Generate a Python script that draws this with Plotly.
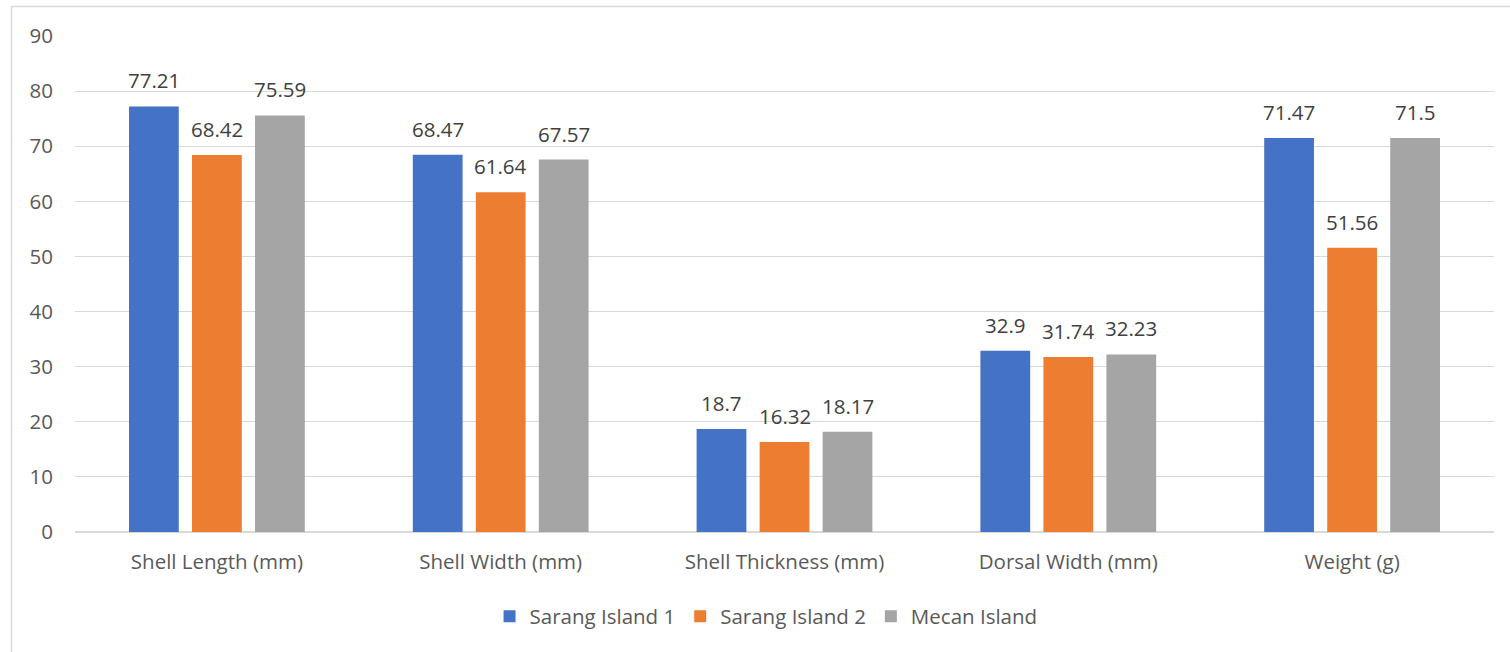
import plotly.graph_objects as go

# Morphometric measurements of shells by collection site
categories = ["Shell Length (mm)", "Shell Width (mm)", "Shell Thickness (mm)",
              "Dorsal Width (mm)", "Weight (g)"]
sarang_1 = [77.21, 68.47, 18.7, 32.9, 71.47]
sarang_2 = [68.42, 61.64, 16.32, 31.74, 51.56]
mecan = [75.59, 67.57, 18.17, 32.23, 71.5]

series = [
    ("Sarang Island 1", sarang_1, "#4472C4"),
    ("Sarang Island 2", sarang_2, "#ED7D31"),
    ("Mecan Island", mecan, "#A5A5A5"),
]

W, H = 1510, 652
margin = dict(l=75, r=16, t=36, b=120)
plot_w = W - margin["l"] - margin["r"]
plot_h = H - margin["t"] - margin["b"]
bargap = 0.334
slot = plot_w / len(categories) * (1 - bargap) / len(series)

font_family = "'Open Sans', sans-serif"
fs = 20.5

fig = go.Figure()
annotations = []
for i, (name, vals, color) in enumerate(series):
    fig.add_trace(go.Bar(
        x=categories, y=vals, name=name,
        marker=dict(color=color, line=dict(width=0)),
    ))
    offset = (i - (len(series) - 1) / 2) * slot
    for cat, v in zip(categories, vals):
        annotations.append(dict(
            x=cat, y=v, xref="x", yref="y", text=f"{v:g}",
            showarrow=False, xshift=offset, yshift=10, yanchor="bottom",
            font=dict(family=font_family, size=fs, color="#404040"),
        ))

fig.update_layout(
    width=W, height=H,
    margin=margin,
    paper_bgcolor="white", plot_bgcolor="white",
    barmode="group", bargap=bargap, bargroupgap=0.21,
    font=dict(family=font_family, size=fs, color="#595959"),
    showlegend=True,
    legend=dict(orientation="h", x=0.487, xanchor="center", y=-0.17, yanchor="middle",
                font=dict(size=fs, color="#595959"), itemwidth=30,
                traceorder="normal"),
    annotations=annotations,
    shapes=[dict(type="rect", xref="paper", yref="paper",
                 x0=(11.5 - margin["l"]) / plot_w, x1=1.05,
                 y0=-0.3, y1=(H - margin["b"] - 6.5) / plot_h,
                 line=dict(color="#d9d9d9", width=1.5), layer="below")],
)
fig.update_xaxes(showgrid=False, showline=False, ticks="", ticklabelstandoff=15,
                 tickfont=dict(size=fs, color="#595959"))
fig.update_yaxes(range=[0, 90], dtick=10, showgrid=True, gridcolor="#d9d9d9", gridwidth=1,
                 zeroline=True, zerolinecolor="#d9d9d9", zerolinewidth=1.5,
                 showline=False, ticks="", ticklabelstandoff=21,
                 tickfont=dict(size=fs, color="#595959"))

fig.write_html("out.html")
